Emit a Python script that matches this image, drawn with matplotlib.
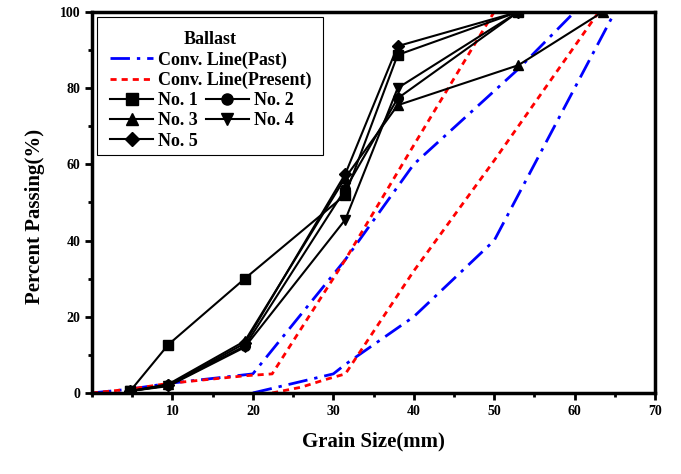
import matplotlib
matplotlib.use("Agg")
import matplotlib.pyplot as plt
from matplotlib.lines import Line2D
from matplotlib.patches import Rectangle
from matplotlib.ticker import MultipleLocator

plt.rcParams['font.family'] = ['Liberation Serif', 'DejaVu Serif']
plt.rcParams['font.weight'] = 'bold'

# sieve sizes (mm) of the samples
sizes = [4.75, 9.5, 19, 31.5, 38, 53]
no1 = [0.5, 12.7, 30, 52, 88.7, 100]
no2 = [0.5, 2.0, 12.3, 53.5, 77.3, 100]
no3_x = [4.75, 9.5, 19, 31.5, 38, 53, 63.5]
no3 = [0.5, 2.3, 13.6, 56.5, 75.5, 86, 100]
no4 = [0.5, 1.8, 12.0, 45.5, 80, 100]
no5 = [0.5, 2.0, 13.0, 57.5, 91, 100]

# conventional gradation limits
past_up_x = [0, 4.75, 9.5, 20, 31.5, 40, 53, 60]
past_up = [0, 1, 2.5, 5, 35, 60, 85, 100]
past_lo_x = [20, 25, 30, 31.5, 40, 50, 65]
past_lo = [0, 2.5, 5, 7.5, 20, 40, 100]
pres_up_x = [0, 4.75, 9.5, 19, 22.4, 31.5, 40, 50]
pres_up = [0, 1, 2.5, 4.5, 5, 35, 65, 100]
pres_lo_x = [22.4, 26, 29, 31.5, 40, 50, 63]
pres_lo = [0, 1.5, 3.5, 5, 32, 61, 100]

fig = plt.figure(figsize=(6.81, 4.74), dpi=100)
ax = fig.add_axes([0.135, 0.171, 0.827, 0.804])

past_style = dict(color='blue', lw=2, dashes=(7, 2.5, 1.2, 2.5))
pres_style = dict(color='red', lw=2, dashes=(2.2, 1.8))
ax.plot(past_up_x, past_up, **past_style)
ax.plot(past_lo_x, past_lo, **past_style)
ax.plot(pres_up_x, pres_up, **pres_style)
ax.plot(pres_lo_x, pres_lo, **pres_style)

blk = dict(color='black', lw=1.5, ms=7)
ax.plot(sizes, no1, marker='s', **blk)
ax.plot(sizes, no2, marker='o', **blk)
ax.plot(no3_x, no3, marker='^', **blk)
ax.plot(sizes, no4, marker='v', **blk)
ax.plot(sizes, no5, marker='D', ms=6, color='black', lw=1.5)

ax.set_xlim(0, 70)
ax.set_ylim(0, 100)
ax.xaxis.set_minor_locator(MultipleLocator(5))
ax.yaxis.set_major_locator(MultipleLocator(20))
ax.yaxis.set_minor_locator(MultipleLocator(10))
ax.set_xticks(range(10, 80, 10))
ax.tick_params(which='major', direction='out', length=5, width=2, labelsize=10)
ax.tick_params(which='minor', direction='out', length=3, width=2)
for s in ax.spines.values():
    s.set_linewidth(2.5)

ax.set_xlabel('Grain Size(mm)', fontsize=15, fontweight='bold', labelpad=10)
ax.set_ylabel('Percent Passing(%)', fontsize=15, fontweight='bold')
ax.yaxis.set_label_coords(-0.083, 0.462)

# legend: two parts inside one frame
fs = 13
h_past = Line2D([], [], **past_style)
h_pres = Line2D([], [], **pres_style)
leg1 = ax.legend([h_past, h_pres], ['Conv. Line(Past)', 'Conv. Line(Present)'],
                 title='Ballast', loc='upper left', bbox_to_anchor=(0.032, 0.950),
                 frameon=False, fontsize=fs, title_fontproperties={'weight': 'bold', 'size': fs},
                 handlelength=2.4, handletextpad=0.25, borderpad=0, borderaxespad=0,
                 labelspacing=0.19)
ax.add_artist(leg1)

hs = [Line2D([], [], color='black', lw=1.5, marker=m, ms=8) for m in ['s', 'o', '^', 'v']]
hs.append(Line2D([], [], color='black', lw=1.5, marker='D', ms=7))
labels = ['No. 1', 'No. 3', 'No. 5', 'No. 2', 'No. 4']
hs = [hs[0], hs[2], hs[4], hs[1], hs[3]]
leg2 = ax.legend(hs, labels, loc='upper left', bbox_to_anchor=(0.032, 0.79),
                 frameon=False, fontsize=fs, ncol=2, handlelength=2.4,
                 handletextpad=0.25, columnspacing=0.45, borderpad=0, borderaxespad=0,
                 labelspacing=0.19)

ax.add_patch(Rectangle((0.009, 0.625), 0.401, 0.362, transform=ax.transAxes,
                       fill=False, lw=0.8, edgecolor='black', zorder=5))

fig.savefig('out.png', dpi=100)
